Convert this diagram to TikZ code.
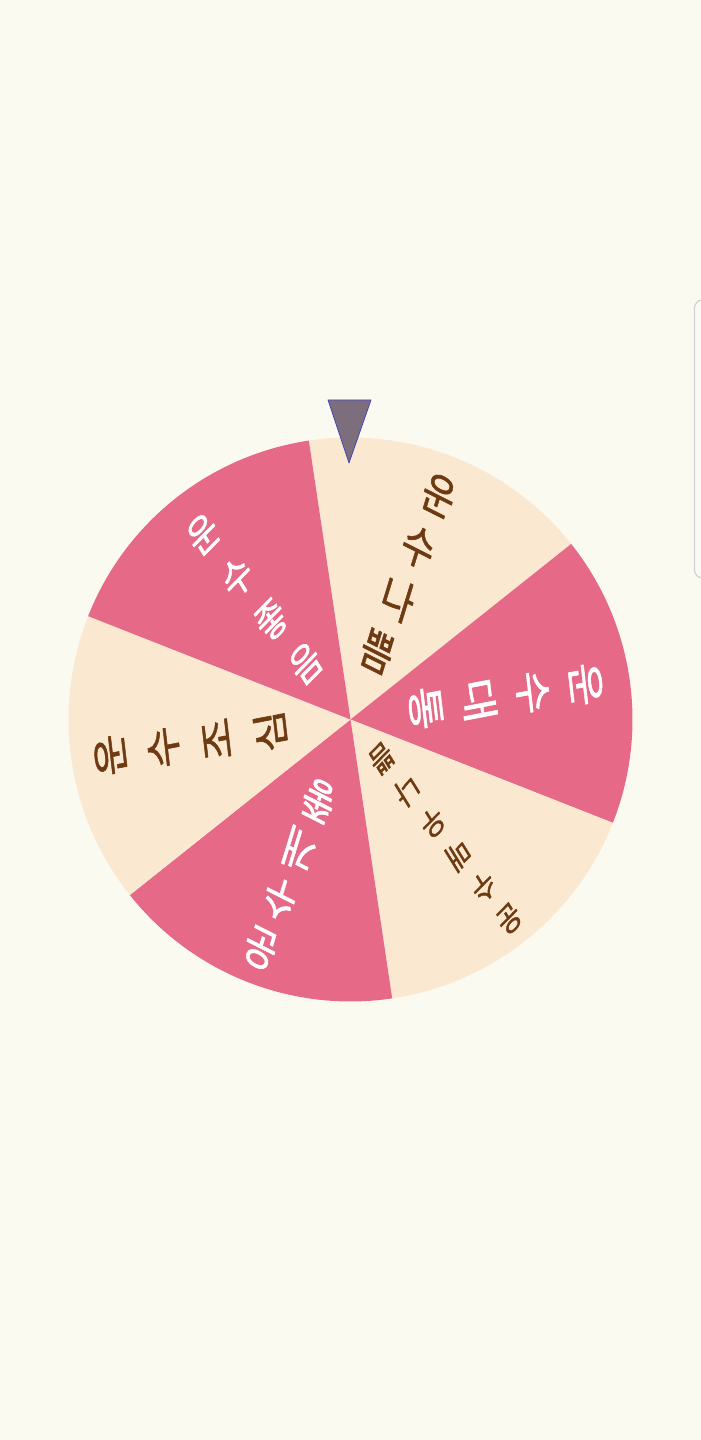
\documentclass[tikz,border=0pt]{standalone}
\usepackage{fontspec}
\usetikzlibrary{calc}
\newfontfamily\kr[FakeBold=1.3]{Noto Sans CJK KR}
\definecolor{bgc}{HTML}{FBFAF1}
\definecolor{pinkc}{HTML}{E66A87}
\definecolor{creamc}{HTML}{FBE8D0}
\definecolor{brownc}{HTML}{6E3A12}
\definecolor{ptrc}{HTML}{7D6E7D}
\begin{document}
\begin{tikzpicture}[x=1pt,y=1pt, line join=round, line cap=round,
    lbl/.style={inner sep=0pt, anchor=center, xscale=.78}]
		\clip (0,0) rectangle (701,1440);
		\fill[bgc] (0,0) rectangle (701,1440);
		\coordinate (c) at (350.5,720.5);
		\foreach \a/\col in {38.5/creamc,-21.5/pinkc,-81.5/creamc,-141.5/pinkc,-201.5/creamc,-261.5/pinkc}
			\fill[\col] (c) -- ++(\a:282) arc[start angle=\a, delta angle=60, radius=282] -- cycle;
		% mid angle / outer radius / pitch / size / colour / letters
		\foreach \m/\r/\p/\s/\col/\txt [count=\k] in {68.5/241/56/46/brownc/{운,수,나,쁨},
				8.5/238/54/48/white/{운,수,대,통},
				-51.5/255/41/32/brownc/{운,수,매,우,나,쁨},
				-111.5/246/53/46/white/{운,수,개,좋},
				-171.5/243/54/46/brownc/{운,수,조,심},
				128.5/237/55/42/white/{운,수,좋,음}}
			\foreach \ch [count=\i] in \txt
				\node[lbl, text=\col, font=\kr\fontsize{\s}{\s}\selectfont, rotate=\m-90] (t\k-\i) at ($(c)+(\m:{\r-(\i-1)*\p})$) {\ch};
		\fill[ptrc, draw=blue!45!gray, line width=.8] (328,1040) -- (371,1040) -- (349,977) -- cycle;
		\draw[gray!35, line width=1.2, rounded corners=8] (694.5,1140) rectangle (720,862);
\end{tikzpicture}
\end{document}
